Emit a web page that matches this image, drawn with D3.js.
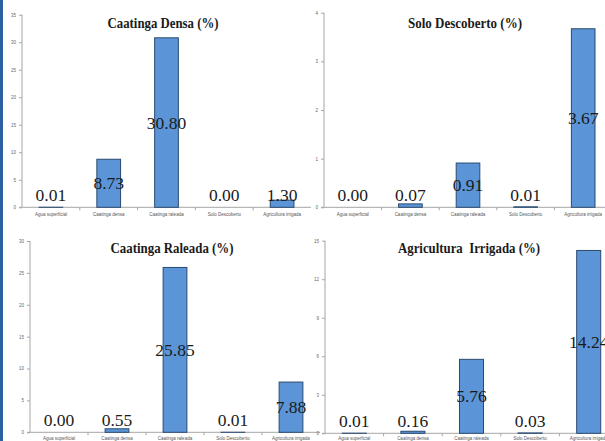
<!DOCTYPE html>
<html>
<head>
<meta charset="utf-8">
<script src="https://cdn.jsdelivr.net/npm/d3@7"></script>
<style>
  body { margin: 0; background: #fff; }
  svg { display: block; }
  .serif { font-family: "Liberation Serif", "Times New Roman", Tinos, "DejaVu Serif", serif; }
  .sans { font-family: "Liberation Sans", Arial, "DejaVu Sans", sans-serif; }
</style>
</head>
<body>
<svg id="chart" width="605" height="441"></svg>
<script>
// categories and values
var categories = ["Agua superficial", "Caatinga densa", "Caatinga raleada", "Solo Descoberto", "Agricultura irrigada"];
var caatingaDensa = [0.01, 8.73, 30.80, 0.00, 1.30];
var soloDescoberto = [0.00, 0.07, 0.91, 0.01, 3.67];
var caatingaRaleada = [0.00, 0.55, 25.85, 0.01, 7.88];
var agriculturaIrrigada = [0.01, 0.16, 5.76, 0.03, 14.24];

var ticksDensa = [0, 5, 10, 15, 20, 25, 30, 35];
var ticksSolo = [0, 1, 2, 3, 4];
var ticksRaleada = [0, 5, 10, 15, 20, 25, 30];
var ticksAgri = [0, 3, 6, 9, 12, 15];

var titles = ["Caatinga Densa (%)", "Solo Descoberto (%)", "Caatinga Raleada (%)", "Agricultura  Irrigada (%)"];

var svg = d3.select("#chart");

// left blue strip of the slide
svg.append("rect").attr("x", 0).attr("y", 0).attr("width", 3).attr("height", 441).attr("fill", "#2e5fa3");

// panel layout (tw = title width on the slide)
var panels = [
    {values: caatingaDensa, ticks: ticksDensa, title: titles[0], left: 22, right: 311, bottom: 207.3, top: 14.7, tx: 163, ty: 28, tw: 111},
    {values: soloDescoberto, ticks: ticksSolo, title: titles[1], left: 324, right: 612, bottom: 207.3, top: 12.7, tx: 465, ty: 27.5, tw: 114},
    {values: caatingaRaleada, ticks: ticksRaleada, title: titles[2], left: 30, right: 320, bottom: 432.3, top: 241, tx: 172, ty: 253, tw: 123},
    {values: agriculturaIrrigada, ticks: ticksAgri, title: titles[3], left: 325, right: 618, bottom: 433.3, top: 240.7, tx: 469, ty: 253, tw: 142}
];

panels.forEach(function(p) {
    var g = svg.append("g");

    var x = d3.scaleBand()
        .domain(categories)
        .range([p.left, p.right])
        .padding(0);
    var y = d3.scaleLinear()
        .domain([0, d3.max(p.ticks)])
        .range([p.bottom, p.top]);

    // Y axis
    var yAxis = g.append("g")
        .attr("transform", "translate(" + p.left + ",0)")
        .call(d3.axisLeft(y).tickValues(p.ticks).tickSize(3).tickPadding(3).tickFormat(d3.format("d")));
    yAxis.attr("font-family", null).attr("font-size", null);
    yAxis.select(".domain").attr("stroke", "#a6a6a6").attr("d", "M0," + y(0) + "V" + y(d3.max(p.ticks)));
    yAxis.selectAll(".tick line").attr("stroke", "#a6a6a6");
    yAxis.selectAll(".tick text")
        .attr("class", "sans")
        .attr("fill", "#666")
        .style("font-size", "4.5px");

    // X axis
    g.append("line")
        .attr("x1", p.left - 3).attr("x2", p.right)
        .attr("y1", y(0)).attr("y2", y(0))
        .attr("stroke", "#a6a6a6");
    g.selectAll(".sep")
        .data(categories.slice(1))
        .enter().append("line")
        .attr("x1", function(d) { return x(d); })
        .attr("x2", function(d) { return x(d); })
        .attr("y1", y(0)).attr("y2", y(0) + 3)
        .attr("stroke", "#a6a6a6");
    g.selectAll(".cat")
        .data(categories)
        .enter().append("text")
        .attr("class", "sans")
        .attr("x", function(d) { return x(d) + x.bandwidth() / 2; })
        .attr("y", Math.min(y(0) + 9, 439.5))
        .attr("text-anchor", "middle")
        .attr("fill", "#555")
        .style("font-size", "4.5px")
        .text(function(d) { return d; });

    // bars
    var bw = x.bandwidth() * 0.41;
    g.selectAll(".bar")
        .data(p.values)
        .enter().append("rect")
        .attr("x", function(d, i) { return x(categories[i]) + (x.bandwidth() - bw) / 2; })
        .attr("y", function(d) { return y(d); })
        .attr("width", bw)
        .attr("height", function(d) { return y(0) - y(d); })
        .attr("fill", "#5b95d8")
        .attr("stroke", "#2a4a70")
        .attr("stroke-width", 1);

    // value labels
    g.selectAll(".val")
        .data(p.values)
        .enter().append("text")
        .attr("class", "serif")
        .attr("x", function(d, i) { return x(categories[i]) + x.bandwidth() / 2; })
        .attr("y", function(d) { return Math.min((y(d) + y(0)) / 2, y(0) - 12); })
        .attr("dy", "0.35em")
        .attr("text-anchor", "middle")
        .attr("fill", "#1a1a1a")
        .style("font-size", "17.5px")
        .text(function(d) { return d.toFixed(2); });

    // title
    g.append("text")
        .attr("class", "serif")
        .attr("x", p.tx)
        .attr("y", p.ty)
        .attr("text-anchor", "middle")
        .attr("fill", "#1a1a1a")
        .attr("textLength", p.tw)
        .attr("lengthAdjust", "spacingAndGlyphs")
        .style("font-weight", "bold")
        .style("font-size", "15.5px")
        .style("white-space", "pre")
        .text(p.title);
});
</script>
</body>
</html>
